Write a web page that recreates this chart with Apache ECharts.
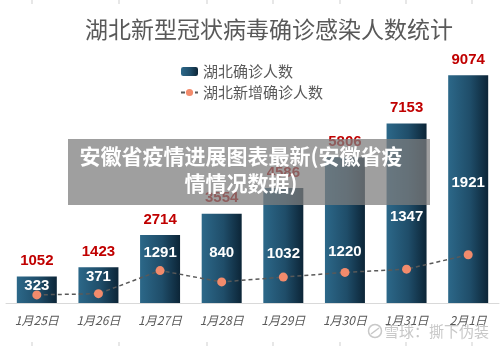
<!DOCTYPE html>
<html>
<head>
<meta charset="utf-8">
<script src="https://cdn.jsdelivr.net/npm/echarts@6/dist/echarts.min.js"></script>
<style>
  html, body { margin: 0; padding: 0; background: #ffffff; }
  #chart { width: 500px; height: 346px; }
</style>
</head>
<body>
<div id="chart"></div>
<script>
// Hubei confirmed cases, late Jan – early Feb 2020
const dates = ['1月25日', '1月26日', '1月27日', '1月28日', '1月29日', '1月30日', '1月31日', '2月1日'];
const totalConfirmed = [1052, 1423, 2714, 3554, 4586, 5806, 7153, 9074];
const newConfirmed = [323, 371, 1291, 840, 1032, 1220, 1347, 1921];

const seriesNames = ['湖北确诊人数', '湖北新增确诊人数'];
const chartTitle = '湖北新型冠状病毒确诊感染人数统计';
const bannerText = '安徽省疫情进展图表最新(安徽省疫\n情情况数据)';
const watermarkText = '雪球：撕下伪装';

// how far each white value label sits above its point (px)
const newLabelLift = [9, 17, 18, 29, 23, 21, 52, 72];

const chart = echarts.init(document.getElementById('chart'), null, { renderer: 'canvas' });

const barGradient = new echarts.graphic.LinearGradient(0, 0, 1, 0, [
  { offset: 0, color: '#2c6889' },
  { offset: 0.55, color: '#1f4d69' },
  { offset: 1, color: '#0c2537' }
]);

// faint crop ticks along the top and bottom edges
const edgeTicks = [];
[32, 119, 207, 273, 340, 406, 472].forEach(function (x) {
  edgeTicks.push({ type: 'line', shape: { x1: x, y1: 0, x2: x, y2: 4 }, style: { stroke: '#cfcfcf', lineWidth: 1 }, silent: true });
  edgeTicks.push({ type: 'line', shape: { x1: x, y1: 342, x2: x, y2: 346 }, style: { stroke: '#cfcfcf', lineWidth: 1 }, silent: true });
});

const TOP_Z = 1000;

const option = {
  backgroundColor: '#ffffff',
  animation: false,
  title: {
    text: chartTitle,
    left: 264,
    top: 13,
    textAlign: 'center',
    textStyle: {
      fontFamily: 'Noto Sans CJK SC',
      fontSize: 23,
      fontWeight: 'normal',
      color: '#595959'
    }
  },
  legend: {
    orient: 'vertical',
    left: 175,
    top: 59,
    itemWidth: 17,
    itemHeight: 9,
    itemGap: 6,
    data: seriesNames,
    textStyle: {
      fontFamily: 'Noto Sans CJK SC',
      fontSize: 15,
      lineHeight: 15,
      color: '#595959'
    }
  },
  grid: { left: 6, right: 1, top: 52, bottom: 43, containLabel: false },
  xAxis: {
    type: 'category',
    data: dates,
    axisTick: { show: false },
    axisLine: { lineStyle: { color: '#d9d9d9', width: 1 } },
    axisLabel: {
      margin: 11,
      fontFamily: 'Noto Sans CJK SC',
      fontStyle: 'italic',
      fontSize: 12,
      color: '#595959'
    }
  },
  yAxis: {
    type: 'value',
    min: 0,
    max: 10000,
    show: false,
    splitLine: { show: false }
  },
  series: [
    {
      name: seriesNames[0],
      type: 'bar',
      data: totalConfirmed,
      barWidth: 40,
      itemStyle: { color: barGradient },
      label: {
        show: true,
        position: 'top',
        distance: 8,
        fontFamily: 'Liberation Sans',
        fontWeight: 'bold',
        fontSize: 15,
        color: '#c00000'
      },
      z: 2
    },
    {
      name: seriesNames[1],
      type: 'line',
      data: newConfirmed.map(function (v, i) {
        return { value: v, label: { offset: [0, -newLabelLift[i]] } };
      }),
      symbol: 'circle',
      symbolSize: 9,
      itemStyle: { color: '#f28b6c' },
      lineStyle: { color: '#595959', width: 1.5, type: [4, 3] },
      label: {
        show: true,
        position: 'inside',
        fontFamily: 'Liberation Sans',
        fontWeight: 'bold',
        fontSize: 15,
        color: '#ffffff'
      },
      z: 3
    }
  ],
  graphic: edgeTicks.concat([
    {
      type: 'rect',
      z: TOP_Z,
      zlevel: 1,
      shape: { x: 68, y: 139, width: 362, height: 66 },
      style: { fill: 'rgba(125,125,125,0.74)' }
    },
    {
      type: 'text',
      z: TOP_Z + 1,
      zlevel: 1,
      style: {
        text: bannerText,
        x: 241,
        y: 170,
        align: 'center',
        verticalAlign: 'middle',
        fontFamily: 'Noto Sans CJK SC',
        fontWeight: 'bold',
        fontSize: 21,
        lineHeight: 27,
        fill: '#ffffff'
      }
    },
    {
      type: 'circle',
      z: TOP_Z,
      zlevel: 1,
      shape: { cx: 375, cy: 331, r: 6.5 },
      style: { fill: 'none', stroke: '#c8c8c8', lineWidth: 1.5 }
    },
    {
      type: 'line',
      z: TOP_Z,
      zlevel: 1,
      shape: { x1: 371, y1: 334, x2: 379, y2: 328 },
      style: { stroke: '#c8c8c8', lineWidth: 1.5 }
    },
    {
      type: 'text',
      z: TOP_Z,
      zlevel: 1,
      style: {
        text: watermarkText,
        x: 384,
        y: 331,
        align: 'left',
        verticalAlign: 'middle',
        fontFamily: 'Noto Sans CJK SC',
        fontSize: 15,
        fill: '#c8c8c8'
      }
    }
  ])
};

chart.setOption(option);
</script>
</body>
</html>
